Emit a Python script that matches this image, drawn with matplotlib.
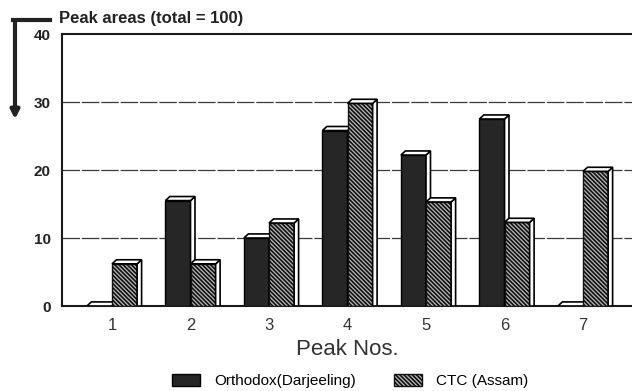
import matplotlib
matplotlib.use('Agg')
import matplotlib.pyplot as plt
from matplotlib.patches import Polygon, Patch
import numpy as np

plt.rcParams['font.family'] = ['Liberation Sans', 'DejaVu Sans']
plt.rcParams['hatch.linewidth'] = 1.2

peaks = ['1', '2', '3', '4', '5', '6', '7']
orthodox = [0, 15.5, 10, 25.8, 22.2, 27.5, 0]
ctc = [6.2, 6.2, 12.2, 29.8, 15.3, 12.3, 19.8]
yticks = [0, 10, 20, 30, 40]

fig = plt.figure(figsize=(6.32, 3.91), dpi=100)
ax = fig.add_axes([62/632, 1-306/391, 1-62/632, (306-34)/391])

x = np.arange(1, len(peaks)+1)
w = 0.32
dx, dy = 0.057, 0.6   # fake 3d depth
hatch = '\\' * 8


def bars3d(xs, vals, **kw):
    ax.bar(xs, vals, width=w, align='edge', zorder=3, **kw)
    for x0, h in zip(xs, vals):
        top = Polygon([(x0, h), (x0+dx, h+dy), (x0+w+dx, h+dy), (x0+w, h)],
                      closed=True, fc='white', ec='black', lw=1.2, zorder=3)
        side = Polygon([(x0+w, 0), (x0+w+dx, 0), (x0+w+dx, h+dy), (x0+w, h)],
                       closed=True, fc='white', ec='black', lw=1.2, zorder=3)
        if h > 0:
            ax.add_patch(side)
        ax.add_patch(top)


bars3d(x - w, orthodox, color='#262626', edgecolor='black', linewidth=1.0)
bars3d(x, ctc, color='#b8b8b8', edgecolor='#111', linewidth=1.0, hatch=hatch)

for g in [10, 20, 30]:
    ax.axhline(g, color='#3a3a3a', lw=0.9, ls=(0, (14, 1.5)), zorder=1)

ax.set_xlim(0.363, 7.624)
ax.set_ylim(0, 40)
ax.set_yticks(yticks)
ax.set_yticklabels([str(t) for t in yticks], fontsize=11, fontweight='bold', color='#222')
ax.set_xticks(x)
ax.set_xticklabels(peaks, fontsize=12, color='#333')
ax.tick_params(axis='y', length=0, pad=8)
ax.tick_params(axis='x', length=0, pad=9)
ax.spines['right'].set_visible(False)
for s in ['left', 'bottom', 'top']:
    ax.spines[s].set_linewidth(1.5)
    ax.spines[s].set_color('#1a1a1a')

ax.set_xlabel('Peak Nos.', fontsize=16, color='#333', labelpad=4)

fig.text(59/632, 1-19/391, 'Peak areas (total = 100)', fontsize=12, fontweight='bold',
         color='#222', va='center', ha='left')

# arrow on the left
fig.add_artist(plt.Line2D([13/632, 50/632], [1-20/391, 1-20/391], lw=3, color='#222'))
ax.annotate('', xy=(15/632, 1-122/391), xytext=(15/632, 1-19/391),
            xycoords='figure fraction', textcoords='figure fraction',
            arrowprops=dict(arrowstyle='-|>,head_length=0.5,head_width=0.25',
                            lw=3, color='#222'))

handles = [Patch(fc='#262626', ec='black', label='Orthodox(Darjeeling)'),
           Patch(fc='#b8b8b8', ec='#111', hatch=hatch, label='CTC (Assam)')]
fig.legend(handles=handles, loc='center', bbox_to_anchor=(350/632, 1-381/391),
           ncol=2, frameon=False, fontsize=11, handlelength=1.85, handleheight=0.9,
           columnspacing=2.5, handletextpad=0.9)

fig.savefig('out.png', dpi=100)
